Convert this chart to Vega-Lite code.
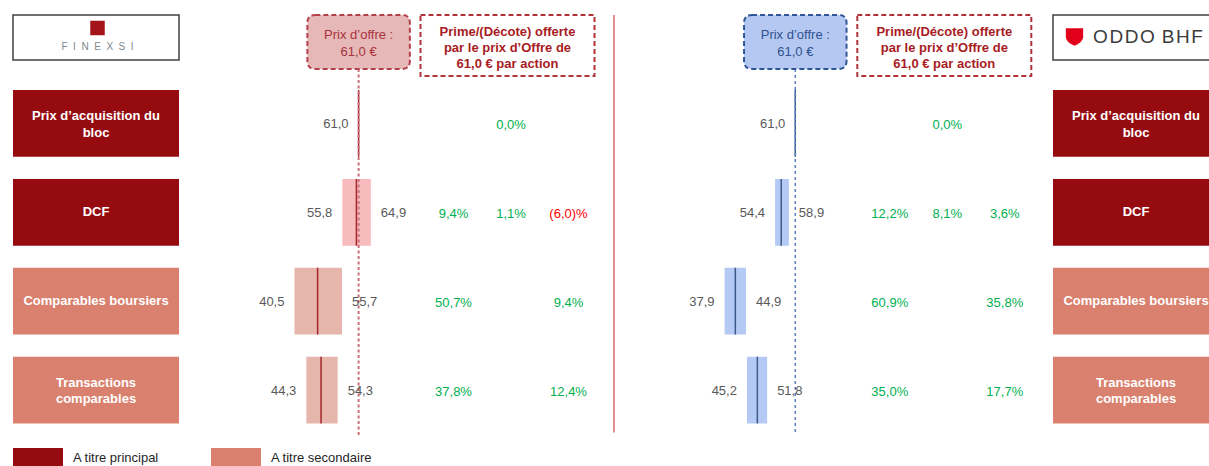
{
"$schema":"https://vega.github.io/schema/vega-lite/v6.json",
"padding":{"left":10,"top":0,"right":0,"bottom":0},
"bounds":"flush",
"spacing":0,
"config":{"view":{"stroke":null},"font":"Liberation Sans","locale":{"number":{"decimal":",","thousands":" ","grouping":[3],"currency":[""," €"]}}},
"resolve":{"scale":{"x":"independent","y":"independent","color":"independent"},"legend":{"color":"independent"}},
"datasets":{
 "methodes":[
  {"methode":"Prix d’acquisition du bloc","libelle":"Prix d’acquisition du\nbloc","type":"A titre principal"},
  {"methode":"DCF","libelle":"DCF","type":"A titre principal"},
  {"methode":"Comparables boursiers","libelle":"Comparables boursiers","type":"A titre secondaire"},
  {"methode":"Transactions comparables","libelle":"Transactions\ncomparables","type":"A titre secondaire"}],
 "fourchettes":[
  {"banque":"Finexsi","methode":"Prix d’acquisition du bloc","type":"A titre principal","bas":61.0,"central":61.0,"haut":61.0},
  {"banque":"Finexsi","methode":"DCF","type":"A titre principal","bas":55.8,"central":60.3,"haut":64.9},
  {"banque":"Finexsi","methode":"Comparables boursiers","type":"A titre secondaire","bas":40.5,"central":47.9,"haut":55.7},
  {"banque":"Finexsi","methode":"Transactions comparables","type":"A titre secondaire","bas":44.3,"central":49.0,"haut":54.3},
  {"banque":"Oddo BHF","methode":"Prix d’acquisition du bloc","type":"A titre principal","bas":61.0,"central":61.0,"haut":61.0},
  {"banque":"Oddo BHF","methode":"DCF","type":"A titre principal","bas":54.4,"central":56.4,"haut":58.9},
  {"banque":"Oddo BHF","methode":"Comparables boursiers","type":"A titre secondaire","bas":37.9,"central":41.4,"haut":44.9},
  {"banque":"Oddo BHF","methode":"Transactions comparables","type":"A titre secondaire","bas":45.2,"central":48.6,"haut":51.8}],
 "primes":[
  {"banque":"Finexsi","methode":"Prix d’acquisition du bloc","borne":"Central","prime":0.0},
  {"banque":"Finexsi","methode":"DCF","borne":"Bas","prime":0.094},
  {"banque":"Finexsi","methode":"DCF","borne":"Central","prime":0.011},
  {"banque":"Finexsi","methode":"DCF","borne":"Haut","prime":-0.060},
  {"banque":"Finexsi","methode":"Comparables boursiers","borne":"Bas","prime":0.507},
  {"banque":"Finexsi","methode":"Comparables boursiers","borne":"Haut","prime":0.094},
  {"banque":"Finexsi","methode":"Transactions comparables","borne":"Bas","prime":0.378},
  {"banque":"Finexsi","methode":"Transactions comparables","borne":"Haut","prime":0.124},
  {"banque":"Oddo BHF","methode":"Prix d’acquisition du bloc","borne":"Central","prime":0.0},
  {"banque":"Oddo BHF","methode":"DCF","borne":"Bas","prime":0.122},
  {"banque":"Oddo BHF","methode":"DCF","borne":"Central","prime":0.081},
  {"banque":"Oddo BHF","methode":"DCF","borne":"Haut","prime":0.036},
  {"banque":"Oddo BHF","methode":"Comparables boursiers","borne":"Bas","prime":0.609},
  {"banque":"Oddo BHF","methode":"Comparables boursiers","borne":"Haut","prime":0.358},
  {"banque":"Oddo BHF","methode":"Transactions comparables","borne":"Bas","prime":0.350},
  {"banque":"Oddo BHF","methode":"Transactions comparables","borne":"Haut","prime":0.177}],
 "offre":[{"banque":"Finexsi","prix":61.0},{"banque":"Oddo BHF","prix":61.0}]
},
"hconcat":[
 {"width":166,"height":466,"layer":[
  {"data":{"name":"methodes"},"mark":{"type":"rect"},"encoding":{
    "y":{"field":"methode","type":"nominal","axis":null,"scale":{"type":"band","domain":["En-tête","Prix d’acquisition du bloc","DCF","Comparables boursiers","Transactions comparables"],"paddingInner":0.2486,"paddingOuter":0.2452,"align":0.025}},
    "color":{"field":"type","type":"nominal","scale":{"domain":["A titre principal","A titre secondaire"],"range":["#950B10","#D9806E"]},
      "legend":{"orient":"none","legendX":0,"legendY":433,"direction":"horizontal","columns":2,"title":null,"symbolType":"M-1,-0.4H1V0.4H-1Z","symbolSize":2500,"symbolStrokeWidth":0,"symbolOpacity":1,"labelFontSize":13,"labelColor":"#262626","labelOffset":10,"columnPadding":52,"labelLimit":300,"padding":0}}}},
  {"data":{"name":"methodes"},"transform":[{"filter":"indexof(datum.libelle, '\\n') < 0"}],"mark":{"type":"text","color":"#FFFFFF","fontWeight":"bold","fontSize":13},"encoding":{
    "y":{"field":"methode","type":"nominal","axis":null},
    "text":{"field":"libelle","type":"nominal"}}},
  {"data":{"name":"methodes"},"transform":[{"filter":"indexof(datum.libelle, '\\n') >= 0"}],"mark":{"type":"text","color":"#FFFFFF","fontWeight":"bold","fontSize":13,"lineBreak":"\n","lineHeight":16.3,"dy":-7},"encoding":{
    "y":{"field":"methode","type":"nominal","axis":null},
    "text":{"field":"libelle","type":"nominal"}}},
  {"data":{"name":"offre"},"transform":[{"filter":"datum.banque == 'Finexsi'"}],"mark":{"type":"point","shape":"M-1,-0.2711H1V0.2711H-1Z","size":27556,"filled":true,"fill":"#FFFFFF","stroke":"#404040","strokeWidth":1.5,"opacity":1,"yOffset":3},"encoding":{
    "y":{"datum":"En-tête","type":"nominal","axis":null}}},
  {"data":{"name":"offre"},"transform":[{"filter":"datum.banque == 'Finexsi'"}],"mark":{"type":"point","shape":"square","size":210,"filled":true,"color":"#A3141A","opacity":1,"xOffset":1.5,"yOffset":-6.5},"encoding":{
    "y":{"datum":"En-tête","type":"nominal","axis":null}}},
  {"data":{"name":"offre"},"transform":[{"filter":"datum.banque == 'Finexsi'"}],"mark":{"type":"text","text":"F\u00a0\u00a0I\u00a0\u00a0N\u00a0\u00a0E\u00a0\u00a0X\u00a0\u00a0S\u00a0\u00a0I","fontSize":10,"color":"#7D8790","dx":1.5,"dy":13},"encoding":{
    "y":{"datum":"En-tête","type":"nominal","axis":null}}}
 ]},
 {"width":235,"height":466,"layer":[
  {"data":{"name":"fourchettes"},"transform":[{"filter":"datum.banque == 'Finexsi'"}],"mark":{"type":"rect"},"encoding":{
    "x":{"field":"bas","type":"quantitative","axis":null,"scale":{"type":"linear","domain":[3.6,78.7],"nice":false,"zero":false}},
    "x2":{"field":"haut"},
    "y":{"field":"methode","type":"nominal","axis":null,"scale":{"type":"band","domain":["En-tête","Prix d’acquisition du bloc","DCF","Comparables boursiers","Transactions comparables"],"paddingInner":0.2486,"paddingOuter":0.2452,"align":0.025}},
    "color":{"field":"type","type":"nominal","scale":{"domain":["A titre principal","A titre secondaire"],"range":["#F8BBBD","#E6B5AB"]},"legend":null}}},
  {"data":{"name":"fourchettes"},"transform":[{"filter":"datum.banque == 'Finexsi'"}],"mark":{"type":"rect","fill":"transparent","stroke":"#A3262C","strokeWidth":1.5},"encoding":{
    "x":{"field":"central","type":"quantitative","axis":null},
    "x2":{"field":"central"},
    "y":{"field":"methode","type":"nominal","axis":null}}},
  {"data":{"name":"offre"},"transform":[{"filter":"datum.banque == 'Finexsi'"}],"mark":{"type":"rule","color":"#C9707C","strokeWidth":2,"strokeDash":[3,2.5],"yOffset":34.5,"y2Offset":45.6},"encoding":{
    "x":{"field":"prix","type":"quantitative","axis":null},
    "y":{"datum":"En-tête","type":"nominal","axis":null},
    "y2":{"datum":"Transactions comparables"}}},
  {"data":{"name":"fourchettes"},"transform":[{"filter":"datum.banque == 'Finexsi'"}],"mark":{"type":"text","align":"right","dx":-10,"dy":1,"fontSize":13,"color":"#595959"},"encoding":{
    "x":{"field":"bas","type":"quantitative","axis":null},
    "y":{"field":"methode","type":"nominal","axis":null},
    "text":{"field":"bas","type":"quantitative","format":".1f"}}},
  {"data":{"name":"fourchettes"},"transform":[{"filter":"datum.banque == 'Finexsi' && datum.haut != datum.bas"}],"mark":{"type":"text","align":"left","dx":10,"dy":1,"fontSize":13,"color":"#595959"},"encoding":{
    "x":{"field":"haut","type":"quantitative","axis":null},
    "y":{"field":"methode","type":"nominal","axis":null},
    "text":{"field":"haut","type":"quantitative","format":".1f"}}},
  {"data":{"name":"offre"},"transform":[{"filter":"datum.banque == 'Finexsi'"}],"mark":{"type":"point","shape":"M-0.844,-0.5268H0.844Q1,-0.5268,1,-0.3708V0.3708Q1,0.5268,0.844,0.5268H-0.844Q-1,0.5268,-1,0.3708V-0.3708Q-1,-0.5268,-0.844,-0.5268Z","size":10506,"filled":true,"fill":"#E6B8B7","stroke":"#B4404A","strokeWidth":2,"strokeDash":[5,3],"opacity":1,"yOffset":7.5},"encoding":{
    "x":{"field":"prix","type":"quantitative","axis":null},
    "y":{"datum":"En-tête","type":"nominal","axis":null}}},
  {"data":{"name":"offre"},"transform":[{"filter":"datum.banque == 'Finexsi'"}],"mark":{"type":"text","text":"Prix d’offre :","fontSize":13,"color":"#A8323E","dy":0.5},"encoding":{
    "x":{"field":"prix","type":"quantitative","axis":null},
    "y":{"datum":"En-tête","type":"nominal","axis":null}}},
  {"data":{"name":"offre"},"transform":[{"filter":"datum.banque == 'Finexsi'"}],"mark":{"type":"text","fontSize":13,"color":"#A8323E","dy":17.2},"encoding":{
    "x":{"field":"prix","type":"quantitative","axis":null},
    "y":{"datum":"En-tête","type":"nominal","axis":null},
    "text":{"field":"prix","type":"quantitative","format":"$.1f"}}}
 ]},
 {"width":194,"height":466,"layer":[
  {"data":{"name":"offre"},"transform":[{"filter":"datum.banque == 'Finexsi'"}],"mark":{"type":"point","shape":"M-1,-0.3506H1V0.3506H-1Z","size":30276,"filled":true,"fill":"#FFFFFF","stroke":"#B2323C","strokeWidth":2,"strokeDash":[5,3],"opacity":1,"xOffset":-3.5,"yOffset":11},"encoding":{
    "x":{"datum":"Central","type":"ordinal","axis":null,"scale":{"type":"point","domain":["Bas","Central","Haut"],"padding":0.687}},
    "y":{"datum":"En-tête","type":"nominal","axis":null,"scale":{"type":"band","domain":["En-tête","Prix d’acquisition du bloc","DCF","Comparables boursiers","Transactions comparables"],"paddingInner":0.2486,"paddingOuter":0.2452,"align":0.025}}}},
  {"data":{"name":"offre"},"transform":[{"filter":"datum.banque == 'Finexsi'"}],"mark":{"type":"text","text":["Prime/(Décote) offerte","par le prix d’Offre de","61,0 € par action"],"fontSize":13,"fontWeight":"bold","color":"#A81C24","lineHeight":15.8,"dx":-3.5,"dy":-2.3},"encoding":{
    "x":{"datum":"Central","type":"ordinal","axis":null},
    "y":{"datum":"En-tête","type":"nominal","axis":null}}},
  {"data":{"name":"primes"},"transform":[{"filter":"datum.banque == 'Finexsi' && datum.prime >= 0"}],"mark":{"type":"text","fontSize":13,"color":"#00B050","dy":1.5},"encoding":{
    "x":{"field":"borne","type":"ordinal","axis":null},
    "y":{"field":"methode","type":"nominal","axis":null},
    "text":{"field":"prime","type":"quantitative","format":".1%"}}},
  {"data":{"name":"primes"},"transform":[{"filter":"datum.banque == 'Finexsi' && datum.prime < 0"}],"mark":{"type":"text","fontSize":13,"color":"#FF0000","dy":1.5,"text":{"expr":"'(' + replace(format(abs(datum.prime) * 100, '.1f'), '.', ',') + ')%'"}},"encoding":{
    "x":{"field":"borne","type":"ordinal","axis":null},
    "y":{"field":"methode","type":"nominal","axis":null}}}
 ]},
 {"width":12,"height":466,"layer":[
  {"data":{"name":"offre"},"transform":[{"filter":"datum.banque == 'Finexsi'"}],"mark":{"type":"rule","color":"#D26F72","strokeWidth":1.5,"yOffset":-19.5,"y2Offset":42.4},"encoding":{
    "y":{"datum":"En-tête","type":"nominal","axis":null,"scale":{"type":"band","domain":["En-tête","Prix d’acquisition du bloc","DCF","Comparables boursiers","Transactions comparables"],"paddingInner":0.2486,"paddingOuter":0.2452,"align":0.025}},
    "y2":{"datum":"Transactions comparables"}}}
 ]},
 {"width":230,"height":466,"layer":[
  {"data":{"name":"fourchettes"},"transform":[{"filter":"datum.banque == 'Oddo BHF'"}],"mark":{"type":"rect","color":"#B4C9F3"},"encoding":{
    "x":{"field":"bas","type":"quantitative","axis":null,"scale":{"type":"linear","domain":[3.71,78.88],"nice":false,"zero":false}},
    "x2":{"field":"haut"},
    "y":{"field":"methode","type":"nominal","axis":null,"scale":{"type":"band","domain":["En-tête","Prix d’acquisition du bloc","DCF","Comparables boursiers","Transactions comparables"],"paddingInner":0.2486,"paddingOuter":0.2452,"align":0.025}}}},
  {"data":{"name":"fourchettes"},"transform":[{"filter":"datum.banque == 'Oddo BHF'"}],"mark":{"type":"rect","fill":"transparent","stroke":"#3D5A8A","strokeWidth":1.5},"encoding":{
    "x":{"field":"central","type":"quantitative","axis":null},
    "x2":{"field":"central"},
    "y":{"field":"methode","type":"nominal","axis":null}}},
  {"data":{"name":"offre"},"transform":[{"filter":"datum.banque == 'Oddo BHF'"}],"mark":{"type":"rule","color":"#5A7FC0","strokeWidth":1.5,"strokeDash":[3,3],"yOffset":34.5,"y2Offset":42.2},"encoding":{
    "x":{"field":"prix","type":"quantitative","axis":null},
    "y":{"datum":"En-tête","type":"nominal","axis":null},
    "y2":{"datum":"Transactions comparables"}}},
  {"data":{"name":"fourchettes"},"transform":[{"filter":"datum.banque == 'Oddo BHF'"}],"mark":{"type":"text","align":"right","dx":-10,"dy":1,"fontSize":13,"color":"#595959"},"encoding":{
    "x":{"field":"bas","type":"quantitative","axis":null},
    "y":{"field":"methode","type":"nominal","axis":null},
    "text":{"field":"bas","type":"quantitative","format":".1f"}}},
  {"data":{"name":"fourchettes"},"transform":[{"filter":"datum.banque == 'Oddo BHF' && datum.haut != datum.bas"}],"mark":{"type":"text","align":"left","dx":10,"dy":1,"fontSize":13,"color":"#595959"},"encoding":{
    "x":{"field":"haut","type":"quantitative","axis":null},
    "y":{"field":"methode","type":"nominal","axis":null},
    "text":{"field":"haut","type":"quantitative","format":".1f"}}},
  {"data":{"name":"offre"},"transform":[{"filter":"datum.banque == 'Oddo BHF'"}],"mark":{"type":"point","shape":"M-0.844,-0.5268H0.844Q1,-0.5268,1,-0.3708V0.3708Q1,0.5268,0.844,0.5268H-0.844Q-1,0.5268,-1,0.3708V-0.3708Q-1,-0.5268,-0.844,-0.5268Z","size":10506,"filled":true,"fill":"#B4C8F2","stroke":"#2F5597","strokeWidth":2,"strokeDash":[5,3],"opacity":1,"yOffset":7.5},"encoding":{
    "x":{"field":"prix","type":"quantitative","axis":null},
    "y":{"datum":"En-tête","type":"nominal","axis":null}}},
  {"data":{"name":"offre"},"transform":[{"filter":"datum.banque == 'Oddo BHF'"}],"mark":{"type":"text","text":"Prix d’offre :","fontSize":13,"color":"#2F528F","dy":0.5},"encoding":{
    "x":{"field":"prix","type":"quantitative","axis":null},
    "y":{"datum":"En-tête","type":"nominal","axis":null}}},
  {"data":{"name":"offre"},"transform":[{"filter":"datum.banque == 'Oddo BHF'"}],"mark":{"type":"text","fontSize":13,"color":"#2F528F","dy":17.2},"encoding":{
    "x":{"field":"prix","type":"quantitative","axis":null},
    "y":{"datum":"En-tête","type":"nominal","axis":null},
    "text":{"field":"prix","type":"quantitative","format":"$.1f"}}}
 ]},
 {"width":203,"height":466,"layer":[
  {"data":{"name":"offre"},"transform":[{"filter":"datum.banque == 'Oddo BHF'"}],"mark":{"type":"point","shape":"M-1,-0.3506H1V0.3506H-1Z","size":30276,"filled":true,"fill":"#FFFFFF","stroke":"#B2323C","strokeWidth":2,"strokeDash":[5,3],"opacity":1,"xOffset":-3,"yOffset":11},"encoding":{
    "x":{"datum":"Central","type":"ordinal","axis":null,"scale":{"type":"point","domain":["Bas","Central","Haut"],"padding":0.7652,"align":0.4523}},
    "y":{"datum":"En-tête","type":"nominal","axis":null,"scale":{"type":"band","domain":["En-tête","Prix d’acquisition du bloc","DCF","Comparables boursiers","Transactions comparables"],"paddingInner":0.2486,"paddingOuter":0.2452,"align":0.025}}}},
  {"data":{"name":"offre"},"transform":[{"filter":"datum.banque == 'Oddo BHF'"}],"mark":{"type":"text","text":["Prime/(Décote) offerte","par le prix d’Offre de","61,0 € par action"],"fontSize":13,"fontWeight":"bold","color":"#A81C24","lineHeight":15.8,"dx":-3,"dy":-2.3},"encoding":{
    "x":{"datum":"Central","type":"ordinal","axis":null},
    "y":{"datum":"En-tête","type":"nominal","axis":null}}},
  {"data":{"name":"primes"},"transform":[{"filter":"datum.banque == 'Oddo BHF' && datum.prime >= 0"}],"mark":{"type":"text","fontSize":13,"color":"#00B050","dy":1.5},"encoding":{
    "x":{"field":"borne","type":"ordinal","axis":null},
    "y":{"field":"methode","type":"nominal","axis":null},
    "text":{"field":"prime","type":"quantitative","format":".1%"}}}
 ]},
 {"width":166,"height":466,"layer":[
  {"data":{"name":"methodes"},"mark":{"type":"rect"},"encoding":{
    "y":{"field":"methode","type":"nominal","axis":null,"scale":{"type":"band","domain":["En-tête","Prix d’acquisition du bloc","DCF","Comparables boursiers","Transactions comparables"],"paddingInner":0.2486,"paddingOuter":0.2452,"align":0.025}},
    "color":{"field":"type","type":"nominal","scale":{"domain":["A titre principal","A titre secondaire"],"range":["#950B10","#D9806E"]},"legend":null}}},
  {"data":{"name":"methodes"},"transform":[{"filter":"indexof(datum.libelle, '\\n') < 0"}],"mark":{"type":"text","color":"#FFFFFF","fontWeight":"bold","fontSize":13},"encoding":{
    "y":{"field":"methode","type":"nominal","axis":null},
    "text":{"field":"libelle","type":"nominal"}}},
  {"data":{"name":"methodes"},"transform":[{"filter":"indexof(datum.libelle, '\\n') >= 0"}],"mark":{"type":"text","color":"#FFFFFF","fontWeight":"bold","fontSize":13,"lineBreak":"\n","lineHeight":16.3,"dy":-7},"encoding":{
    "y":{"field":"methode","type":"nominal","axis":null},
    "text":{"field":"libelle","type":"nominal"}}},
  {"data":{"name":"offre"},"transform":[{"filter":"datum.banque == 'Oddo BHF'"}],"mark":{"type":"point","shape":"M-1,-0.2711H1V0.2711H-1Z","size":27556,"filled":true,"fill":"#FFFFFF","stroke":"#404040","strokeWidth":1.5,"opacity":1,"yOffset":3},"encoding":{
    "y":{"datum":"En-tête","type":"nominal","axis":null}}},
  {"data":{"name":"offre"},"transform":[{"filter":"datum.banque == 'Oddo BHF'"}],"mark":{"type":"point","shape":"M-1,-1L1,-1L1,0Q1,0.6,0,1Q-1,0.6,-1,0Z","size":300,"filled":true,"color":"#E2001A","opacity":1,"xOffset":-61.5,"yOffset":2.5},"encoding":{
    "y":{"datum":"En-tête","type":"nominal","axis":null}}},
  {"data":{"name":"offre"},"transform":[{"filter":"datum.banque == 'Oddo BHF'"}],"mark":{"type":"text","text":"O\u200aD\u200aD\u200aO \u200aB\u200aH\u200aF","fontSize":19,"color":"#3C3C3C","dx":12,"dy":2.5},"encoding":{
    "y":{"datum":"En-tête","type":"nominal","axis":null}}}
 ]}
]
}
